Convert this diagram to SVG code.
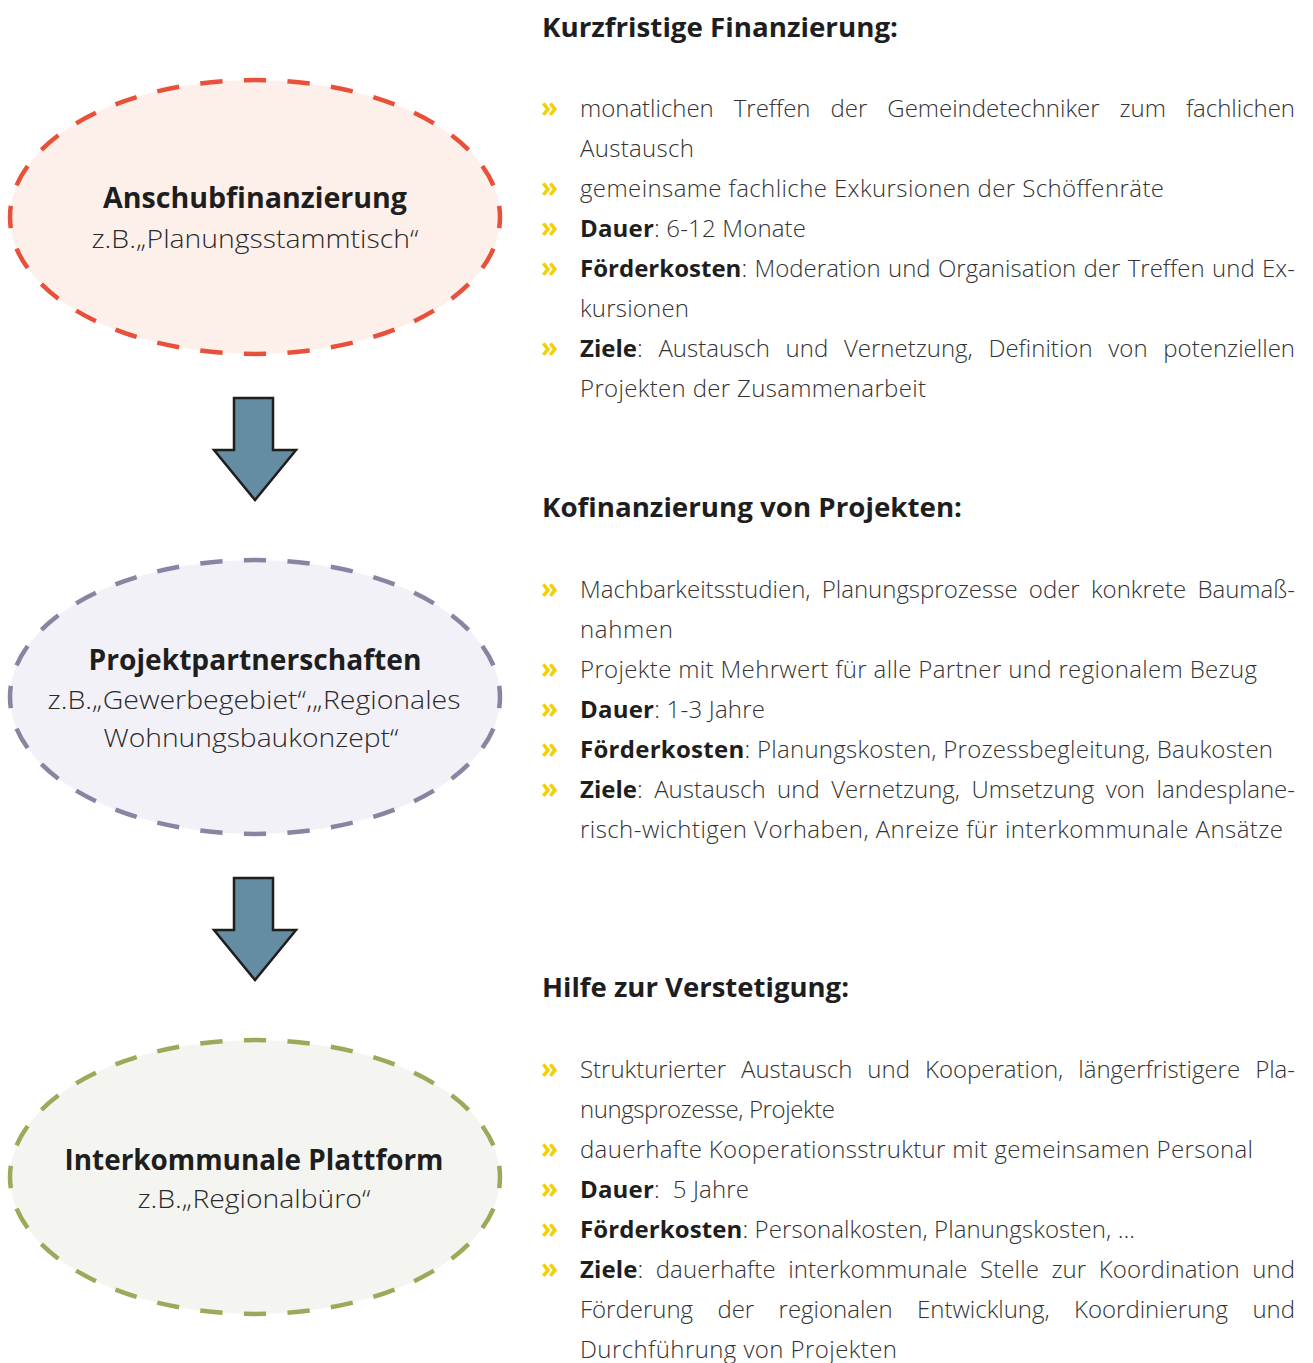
<svg xmlns="http://www.w3.org/2000/svg" width="1313" height="1363" viewBox="0 0 1313 1363">
<style>
  .ell { stroke-width: 4.5; stroke-dasharray: 22 21; stroke-dashoffset: 11; }
  .e1 { fill: #fdf0eb; stroke: #e8503a; }
  .e2 { fill: #f2f1f7; stroke: #8a84a3; }
  .e3 { fill: #f4f5f0; stroke: #9aaa5a; }
  .nt { font-family: "Open Sans", "Liberation Sans", sans-serif; font-weight: 700; font-size: 28px; fill: #1e1e1e; text-anchor: middle; }
  .ns { font-family: "Open Sans", "Liberation Sans", sans-serif; font-weight: 300; font-size: 26px; fill: #2a2a2a; text-anchor: middle; }
  .arrow { fill: #648da4; stroke: #1e1e1e; stroke-width: 2.5; stroke-linejoin: miter; }
  .h { font-family: "Open Sans", "Liberation Sans", sans-serif; font-weight: 700; font-size: 27px; fill: #1e1e1e; }
  .t { font-family: "Open Sans", "Liberation Sans", sans-serif; font-weight: 300; font-size: 24px; fill: #333333; }
  .b { font-weight: 700; fill: #1e1e1e; }
  .bu { font-family: "Open Sans", "Liberation Sans", sans-serif; font-weight: 700; font-size: 28px; fill: #f5d000; }
</style>

<g id="connectors">
  <path class="arrow" d="M234,398 H273 V450 H296 L255,500 L214,450 H234 Z"/>
  <path class="arrow" d="M234,878 H273 V930 H296 L255,980 L214,930 H234 Z"/>
</g>

<g id="node-anschub">
  <ellipse class="ell e1" cx="255" cy="217" rx="245" ry="137" pathLength="1204"/>
  <text class="nt" x="255" y="208" textLength="304" lengthAdjust="spacingAndGlyphs">Anschubfinanzierung</text>
  <text class="ns" x="255" y="248" textLength="327" lengthAdjust="spacingAndGlyphs">z.B.„Planungsstammtisch“</text>
</g>

<g id="node-projekt">
  <ellipse class="ell e2" cx="255" cy="697" rx="245" ry="137" pathLength="1204"/>
  <text class="nt" x="255" y="670" textLength="333" lengthAdjust="spacingAndGlyphs">Projektpartnerschaften</text>
  <text class="ns" x="254" y="709" textLength="413" lengthAdjust="spacingAndGlyphs">z.B.„Gewerbegebiet“,„Regionales</text>
  <text class="ns" x="251" y="747" textLength="295" lengthAdjust="spacingAndGlyphs">Wohnungsbaukonzept“</text>
</g>

<g id="node-plattform">
  <ellipse class="ell e3" cx="255" cy="1177" rx="245" ry="137" pathLength="1204"/>
  <text class="nt" x="254" y="1170" textLength="379" lengthAdjust="spacingAndGlyphs">Interkommunale Plattform</text>
  <text class="ns" x="254" y="1208" textLength="233" lengthAdjust="spacingAndGlyphs">z.B.„Regionalbüro“</text>
</g>

<g id="section-kurzfristig">
  <text class="h" x="542" y="37" textLength="356" lengthAdjust="spacingAndGlyphs">Kurzfristige Finanzierung:</text>
  <text class="bu" x="541" y="117">»</text>
  <text class="t" x="580" y="117" word-spacing="13.8" textLength="715">monatlichen Treffen der Gemeindetechniker zum fachlichen</text>
  <text class="t" x="580" y="157" textLength="114">Austausch</text>
  <text class="bu" x="541" y="197">»</text>
  <text class="t" x="580" y="197" textLength="584">gemeinsame fachliche Exkursionen der Schöffenräte</text>
  <text class="bu" x="541" y="237">»</text>
  <text class="t" x="580" y="237" textLength="226"><tspan class="b">Dauer</tspan>: 6-12 Monate</text>
  <text class="bu" x="541" y="277">»</text>
  <text class="t" x="580" y="277" word-spacing="1.1" textLength="715"><tspan class="b">Förderkosten</tspan>: Moderation und Organisation der Treffen und Ex-</text>
  <text class="t" x="580" y="317" textLength="109">kursionen</text>
  <text class="bu" x="541" y="357">»</text>
  <text class="t" x="580" y="357" word-spacing="9.5" textLength="715"><tspan class="b">Ziele</tspan>: Austausch und Vernetzung, Definition von potenziellen</text>
  <text class="t" x="580" y="397" textLength="346">Projekten der Zusammenarbeit</text>
</g>

<g id="section-kofinanzierung">
  <text class="h" x="542" y="517" textLength="420" lengthAdjust="spacingAndGlyphs">Kofinanzierung von Projekten:</text>
  <text class="bu" x="541" y="598">»</text>
  <text class="t" x="580" y="598" word-spacing="5" textLength="715">Machbarkeitsstudien, Planungsprozesse oder konkrete Baumaß-</text>
  <text class="t" x="580" y="638" textLength="93">nahmen</text>
  <text class="bu" x="541" y="678">»</text>
  <text class="t" x="580" y="678" textLength="677">Projekte mit Mehrwert für alle Partner und regionalem Bezug</text>
  <text class="bu" x="541" y="718">»</text>
  <text class="t" x="580" y="718" textLength="185"><tspan class="b">Dauer</tspan>: 1-3 Jahre</text>
  <text class="bu" x="541" y="758">»</text>
  <text class="t" x="580" y="758" textLength="693"><tspan class="b">Förderkosten</tspan>: Planungskosten, Prozessbegleitung, Baukosten</text>
  <text class="bu" x="541" y="798">»</text>
  <text class="t" x="580" y="798" word-spacing="5.3" textLength="715"><tspan class="b">Ziele</tspan>: Austausch und Vernetzung, Umsetzung von landesplane-</text>
  <text class="t" x="580" y="838" textLength="703">risch-wichtigen Vorhaben, Anreize für interkommunale Ansätze</text>
</g>

<g id="section-verstetigung">
  <text class="h" x="542" y="997" textLength="307" lengthAdjust="spacingAndGlyphs">Hilfe zur Verstetigung:</text>
  <text class="bu" x="541" y="1078">»</text>
  <text class="t" x="580" y="1078" word-spacing="8.8" textLength="715">Strukturierter Austausch und Kooperation, längerfristigere Pla-</text>
  <text class="t" x="580" y="1118" textLength="255">nungsprozesse, Projekte</text>
  <text class="bu" x="541" y="1158">»</text>
  <text class="t" x="580" y="1158" textLength="673">dauerhafte Kooperationsstruktur mit gemeinsamen Personal</text>
  <text class="bu" x="541" y="1198">»</text>
  <text class="t" x="580" y="1198" textLength="169"><tspan class="b">Dauer</tspan>:&#160; 5 Jahre</text>
  <text class="bu" x="541" y="1238">»</text>
  <text class="t" x="580" y="1238" textLength="555"><tspan class="b">Förderkosten</tspan>: Personalkosten, Planungskosten, ...</text>
  <text class="bu" x="541" y="1278">»</text>
  <text class="t" x="580" y="1278" word-spacing="6.1" textLength="715"><tspan class="b">Ziele</tspan>: dauerhafte interkommunale Stelle zur Koordination und</text>
  <text class="t" x="580" y="1318" word-spacing="18.2" textLength="715">Förderung der regionalen Entwicklung, Koordinierung und</text>
  <text class="t" x="580" y="1358" textLength="317">Durchführung von Projekten</text>
</g>
</svg>
